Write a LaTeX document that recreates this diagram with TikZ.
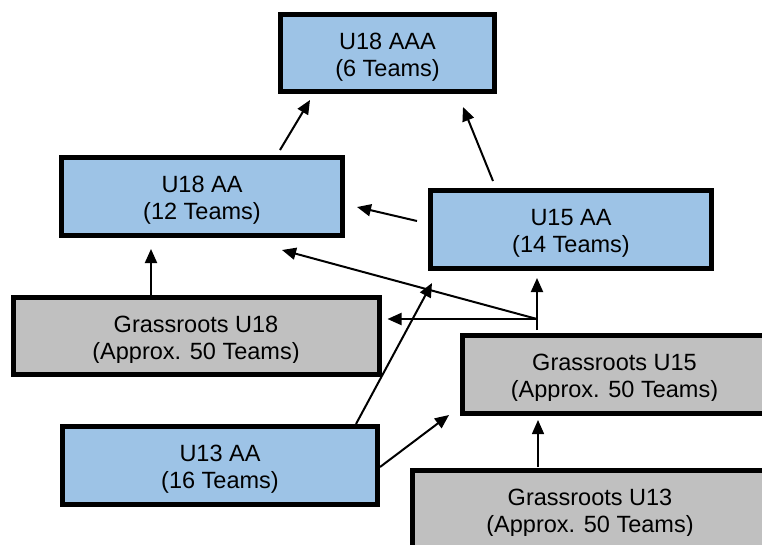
\documentclass[tikz,border=0pt]{standalone}
\usepackage{fontspec}
\setmainfont{Liberation Sans}
\usetikzlibrary{arrows.meta}
\definecolor{boxblue}{HTML}{9DC3E6}
\definecolor{boxgray}{HTML}{C0C0C0}
\tikzset{
  box/.style={draw=black, line width=5pt, minimum width=#1, minimum height=78pt, inner sep=0pt},
  bluebox/.style={box=#1, fill=boxblue},
  graybox/.style={box=#1, fill=boxgray},
  txt/.style={align=center, font=\fontsize{23.5pt}{27pt}\selectfont, inner sep=0pt},
  arr/.style={line width=2pt, -{Triangle[length=14pt,width=12pt]}},
  ln/.style={line width=2pt}
}
\begin{document}
\begin{tikzpicture}[x=1pt,y=-1pt]
\useasboundingbox (0,0) rectangle (762,544);
\clip (0,0) rectangle (762,544);
% boxes
\node[bluebox=214pt, minimum height=77pt] (aaa) at (387.5,53) {};
\node[bluebox=281pt] (u18aa) at (202,196.5) {};
\node[bluebox=281pt] (u15aa) at (571,229.5) {};
\node[graybox=366pt, minimum height=77pt] (gr18) at (196,336) {};
\node[graybox=304pt] (gr15) at (614.5,374.5) {};
\node[bluebox=315pt] (u13) at (220,465.5) {};
\node[graybox=355pt] (gr13) at (590,509.5) {};
% texts
\node[txt] (taaa) at ([yshift=-4pt]aaa.center) {U18 AAA\\(6 Teams)};
\node[txt] (tu18aa) at ([yshift=-4pt]u18aa.center) {U18 AA\\(12 Teams)};
\node[txt] (tu15aa) at ([yshift=-4pt]u15aa.center) {U15 AA\\(14 Teams)};
\node[txt] (tu13) at ([yshift=-4pt]u13.center) {U13 AA\\(16 Teams)};
\begin{scope}
\clip (gr18.north west) rectangle ([yshift=-26pt]gr18.east);
\node[txt] (tgr18) at ([yshift=-4pt]gr18.center) {Grassroots U18\\(Approx. 50 Teams)};
\end{scope}
\begin{scope}
\clip (gr15.north west) rectangle ([yshift=-26pt]gr15.east);
\node[txt] (tgr15) at ([yshift=-4pt]gr15.center) {Grassroots U15\\(Approx. 50 Teams)};
\end{scope}
\begin{scope}
\clip (gr13.north west) rectangle ([yshift=-26pt]gr13.east);
\node[txt] (tgr13) at ([yshift=-4pt]gr13.center) {Grassroots U13\\(Approx. 50 Teams)};
\end{scope}
% connectors
\draw[arr] ([xshift=78pt,yshift=5pt]u18aa.north) -- ([xshift=-77.5pt,yshift=-6pt]aaa.south);
\draw[arr] ([xshift=-78pt,yshift=7pt]u15aa.north) -- ([xshift=75.5pt,yshift=-13pt]aaa.south);
\draw[arr] ([xshift=-11pt,yshift=8.5pt]u15aa.west) -- ([xshift=12pt,yshift=-10.5pt]u18aa.east);
\coordinate (j) at ([xshift=-77.5pt,yshift=14pt]gr15.north);
\draw[ln] ([xshift=-77.5pt,yshift=3pt]gr15.north) -- (j);
\draw[arr] (j) -- ([xshift=-34pt,yshift=-7pt]u15aa.south);
\draw[arr] (j) -- ([xshift=6pt,yshift=17pt]gr18.east);
\draw[arr] (j) -- ([xshift=80pt,yshift=-12pt]u18aa.south);
\draw[arr] ([xshift=-45pt]gr18.north) -- ([xshift=-51pt,yshift=-11pt]u18aa.south);
\draw[arr] ([xshift=136pt]u13.north) -- ([xshift=-139pt,yshift=-12pt]u15aa.south);
\draw[arr] ([yshift=-1.5pt]u13.east) -- ([xshift=-11pt,yshift=-40.5pt]gr15.west);
\draw[arr, line width=1.5pt] ([xshift=-52pt,yshift=1pt]gr13.north) -- ([xshift=-76.5pt,yshift=-4pt]gr15.south);
\end{tikzpicture}
\end{document}
